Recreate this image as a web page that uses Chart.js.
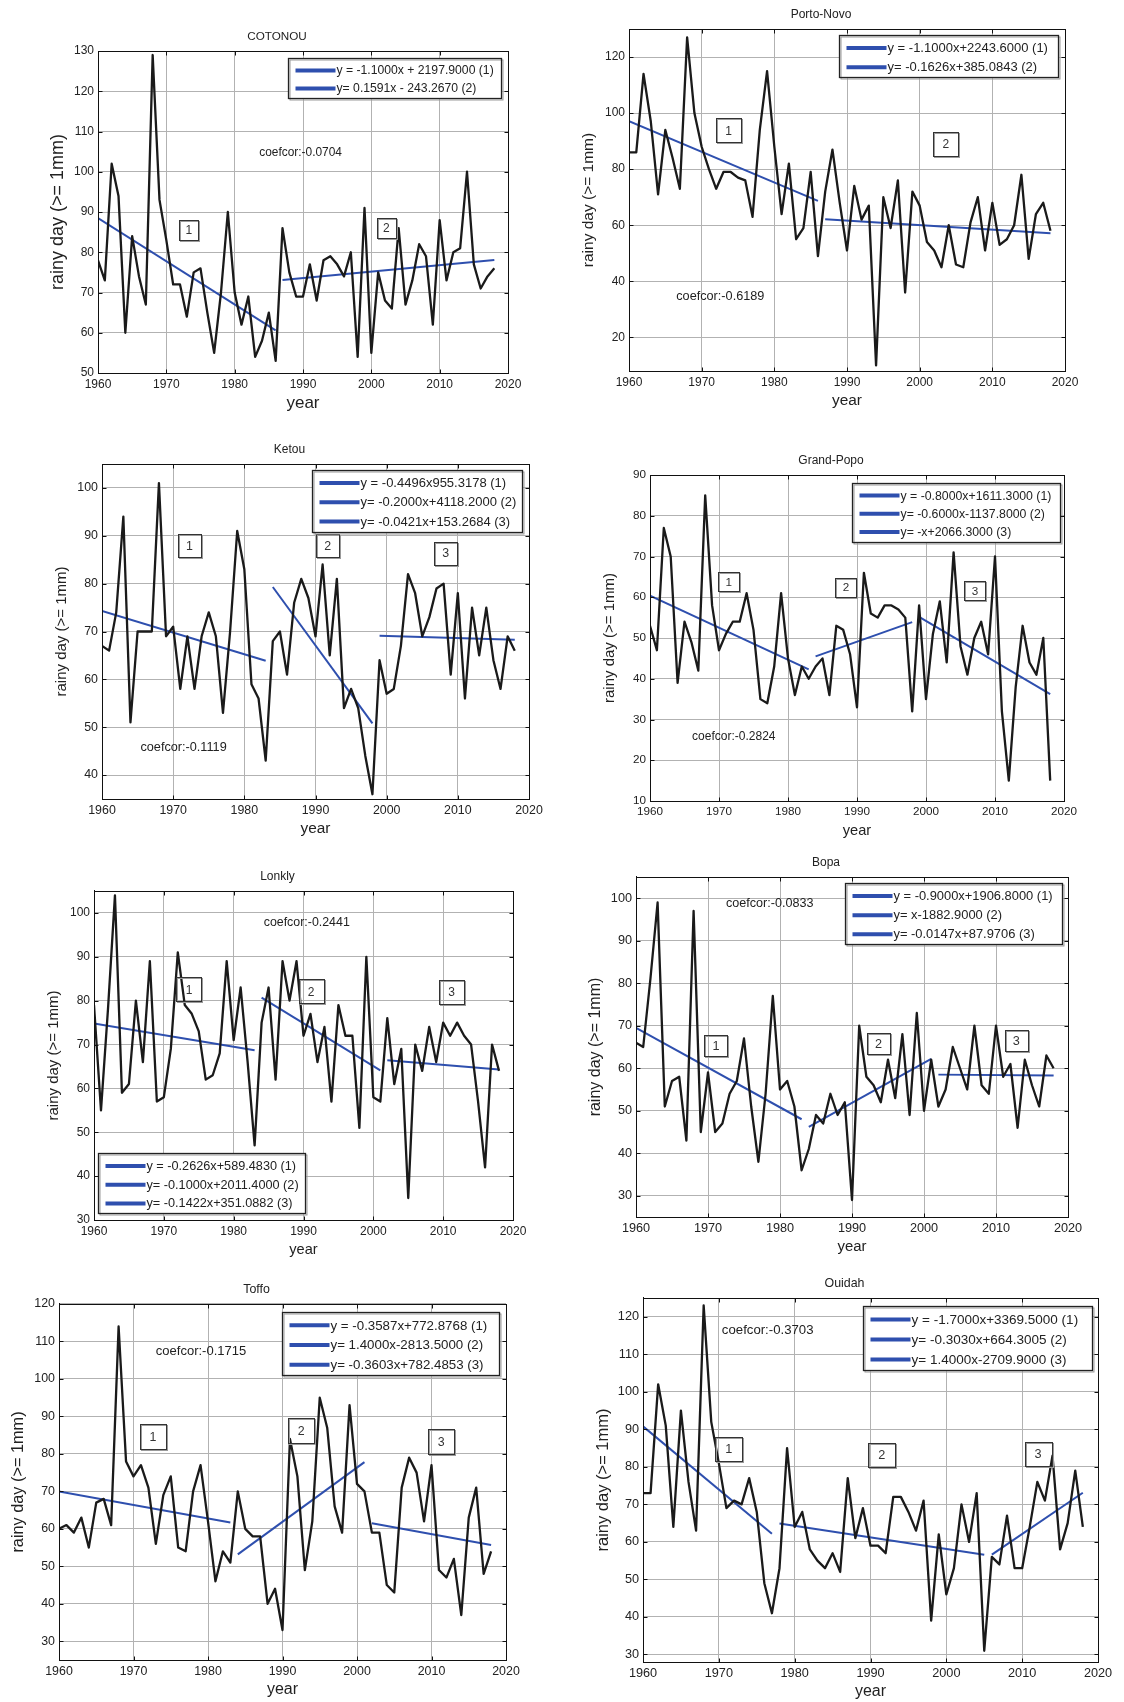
<!DOCTYPE html>
<html>
<head>
<meta charset="utf-8">
<title>Rainy days (>= 1mm), 1960-2018</title>
<script src="https://cdn.jsdelivr.net/npm/chart.js@4.4.1/dist/chart.umd.min.js"></script>
<style>
    html, body { margin: 0; padding: 0; background: #fff; overflow: hidden; }
    body { position: relative; width: 1124px; height: 1702px; }
    canvas { position: absolute; }
</style>
</head>
<body>
<script>
// Años y ticks comunes
const years = [];
for (let yr = 1960; yr <= 2018; yr++) years.push(yr);
const xTicks = [1960, 1970, 1980, 1990, 2000, 2010, 2020];

// COTONOU
const cotonou = [78, 73, 102, 94, 60, 84, 74, 67, 129, 93, 83, 72, 72, 64, 75, 76, 65, 55, 70, 90,
    70, 62, 69, 54, 58, 65, 53, 86, 75, 69, 69, 77, 68, 78, 79, 77, 74, 80, 54, 91,
    55, 75, 68, 66, 86, 67, 73, 82, 79, 62, 88, 73, 80, 81, 100, 77, 71, 74, 76];
const cotonouFitX = [[1960, 1986], [1987, 2018]];
const cotonouFitY = [[88.5, 60.6], [73.1, 78.1]];
const cotonouEq = ['y = -1.1000x + 2197.9000 (1)', 'y= 0.1591x - 243.2670 (2)'];
const cotonouTicks = [50, 60, 70, 80, 90, 100, 110, 120, 130];

// Porto-Novo
const porto = [86, 86, 114, 97, 71, 94, 84, 73, 127, 100, 88, 80, 73, 79, 79, 77, 76, 63, 94, 115,
    88, 64, 82, 55, 59, 79, 49, 72, 87, 68, 51, 74, 62, 67, 10, 70, 59, 76, 36, 72,
    67, 54, 51, 45, 60, 46, 45, 61, 70, 51, 68, 53, 55, 60, 78, 48, 64, 68, 58];
const portoFitX = [[1960, 1986], [1987, 2018]];
const portoFitY = [[97.1, 68.7], [62.1, 57.1]];
const portoEq = ['y = -1.1000x+2243.6000 (1)', 'y= -0.1626x+385.0843 (2)'];
const portoTicks = [20, 40, 60, 80, 100, 120];

// Ketou
const ketou = [67, 66, 74, 94, 51, 70, 70, 70, 101, 69, 71, 58, 69, 58, 69, 74, 69, 53, 70, 91,
    83, 59, 56, 43, 68, 70, 61, 76, 81, 77, 69, 84, 65, 81, 54, 58, 54, 44, 36, 64,
    57, 58, 67, 82, 78, 69, 73, 79, 80, 61, 78, 56, 75, 65, 75, 64, 58, 69, 66];
const ketouFitX = [[1960, 1983], [1984, 1998], [1999, 2018]];
const ketouFitY = [[74.3, 63.9], [79.3, 50.8], [69.1, 68.3]];
const ketouEq = ['y = -0.4496x955.3178 (1)', 'y= -0.2000x+4118.2000 (2)', 'y= -0.0421x+153.2684 (3)'];
const ketouTicks = [40, 50, 60, 70, 80, 90, 100];

// Grand-Popo
const grandPopo = [53, 47, 77, 70, 39, 54, 49, 42, 85, 58, 47, 51, 54, 54, 61, 52, 35, 34, 43, 61,
    45, 36, 43, 40, 43, 45, 36, 53, 52, 46, 33, 66, 56, 55, 58, 58, 57, 55, 32, 58,
    35, 51, 59, 44, 71, 48, 41, 50, 54, 46, 70, 32, 15, 38, 53, 44, 41, 50, 15];
const grandPopoFitX = [[1960, 1983], [1984, 1998], [1999, 2018]];
const grandPopoFitY = [[60.4, 42.3], [45.5, 53.9], [55.2, 36.2]];
const grandPopoEq = ['y = -0.8000x+1611.3000 (1)', 'y= -0.6000x-1137.8000 (2)', 'y= -x+2066.3000 (3)'];
const grandPopoTicks = [10, 20, 30, 40, 50, 60, 70, 80, 90];

// Lonkly
const lonkly = [79, 55, 78, 104, 59, 61, 80, 66, 89, 57, 58, 69, 91, 79, 77, 73, 62, 63, 68, 89,
    71, 83, 66, 47, 75, 83, 62, 89, 80, 89, 72, 77, 66, 74, 57, 79, 72, 72, 51, 90,
    58, 57, 76, 61, 69, 35, 70, 64, 74, 66, 75, 72, 75, 72, 70, 57, 42, 70, 64];
const lonklyFitX = [[1960, 1983], [1984, 2001], [2002, 2018]];
const lonklyFitY = [[74.8, 68.7], [80.7, 64.1], [66.4, 64.3]];
const lonklyEq = ['y = -0.2626x+589.4830 (1)', 'y= -0.1000x+2011.4000 (2)', 'y= -0.1422x+351.0882 (3)'];
const lonklyTicks = [30, 40, 50, 60, 70, 80, 90, 100];

// Bopa
const bopa = [66, 65, 81, 99, 51, 57, 58, 43, 97, 45, 59, 45, 47, 54, 57, 67, 51, 38, 54, 77,
    55, 57, 51, 36, 41, 49, 47, 54, 49, 52, 29, 70, 58, 56, 52, 62, 53, 68, 49, 73,
    50, 62, 51, 55, 65, 60, 55, 70, 56, 54, 70, 58, 61, 46, 62, 56, 51, 63, 60];
const bopaFitX = [[1960, 1983], [1984, 2001], [2002, 2018]];
const bopaFitY = [[69.5, 48], [46.2, 62.2], [58.5, 58.3]];
const bopaEq = ['y = -0.9000x+1906.8000 (1)', 'y= x-1882.9000 (2)', 'y= -0.0147x+87.9706 (3)'];
const bopaTicks = [30, 40, 50, 60, 70, 80, 90, 100];

// Toffo
const toffo = [60, 61, 59, 63, 55, 67, 68, 61, 114, 78, 74, 77, 71, 56, 69, 74, 55, 54, 70, 77,
    62, 46, 54, 51, 70, 60, 58, 58, 40, 44, 33, 84, 74, 49, 62, 95, 87, 66, 59, 93,
    72, 70, 59, 59, 45, 43, 71, 79, 75, 62, 77, 49, 47, 52, 37, 63, 71, 48, 54];
const toffoFitX = [[1960, 1983], [1984, 2001], [2002, 2018]];
const toffoFitY = [[70, 61.7], [53.2, 77.8], [61.5, 55.7]];
const toffoEq = ['y = -0.3587x+772.8768 (1)', 'y= 1.4000x-2813.5000 (2)', 'y= -0.3603x+782.4853 (3)'];
const toffoTicks = [30, 40, 50, 60, 70, 80, 90, 100, 110, 120];

// Ouidah
const ouidah = [73, 73, 102, 91, 64, 95, 76, 63, 123, 92, 81, 69, 71, 70, 77, 68, 49, 41, 53, 85,
    64, 68, 58, 55, 53, 57, 52, 77, 61, 69, 59, 59, 57, 72, 72, 68, 63, 71, 39, 62,
    46, 53, 70, 60, 73, 31, 56, 54, 67, 53, 53, 64, 76, 71, 83, 58, 65, 79, 64];
const ouidahFitX = [[1960, 1977], [1978, 2005], [2006, 2018]];
const ouidahFitY = [[90.8, 62.2], [64.9, 56.6], [56.6, 73.1]];
const ouidahEq = ['y = -1.7000x+3369.5000 (1)', 'y= -0.3030x+664.3005 (2)', 'y= 1.4000x-2709.9000 (3)'];
const ouidahTicks = [30, 40, 50, 60, 70, 80, 90, 100, 110, 120];

const BLUE = '#2e4fae';
const INK = '#222';
const GRID = '#b2b2b2';
const FONT = '"Liberation Sans", Arial, sans-serif';

Chart.defaults.font.family = FONT;
Chart.defaults.color = INK;

// Paneles: datos + ubicación en la página
const panels = [
    { title: 'COTONOU', values: cotonou, fitX: cotonouFitX, fitY: cotonouFitY, eq: cotonouEq,
      coef: 'coefcor:-0.0704', yTicks: cotonouTicks, yMin: 50, yMax: 130,
      coefAt: [1983.6, 104.7], marks: [[1973.3, 85.5], [2002.2, 86]], markBox: [19, 20],
      box: [98, 51, 508, 373], legend: [190, 7, 213],
      f: { tick: 12, title: 11.7, yT: 18, xT: 17, leg: 12.2 } },
    { title: 'Porto-Novo', values: porto, fitX: portoFitX, fitY: portoFitY, eq: portoEq,
      coef: 'coefcor:-0.6189', yTicks: portoTicks, yMin: 8, yMax: 130,
      coefAt: [1966.5, 34.5], marks: [[1973.7, 93.8], [2003.6, 89]], markBox: [25, 24],
      box: [629, 29, 1065, 371], legend: [210, 6, 219],
      f: { tick: 12, title: 12, yT: 15.5, xT: 15.4, leg: 13 } },
    { title: 'Ketou', values: ketou, fitX: ketouFitX, fitY: ketouFitY, eq: ketouEq,
      coef: 'coefcor:-0.1119', yTicks: ketouTicks, yMin: 35, yMax: 105,
      coefAt: [1965.4, 45.8], marks: [[1972.3, 87.9], [1991.7, 87.9], [2008.3, 86.4]], markBox: [23, 23],
      box: [102, 464, 529, 799], legend: [210, 6, 210],
      f: { tick: 12.4, title: 12, yT: 15, xT: 15.4, leg: 13 } },
    { title: 'Grand-Popo', values: grandPopo, fitX: grandPopoFitX, fitY: grandPopoFitY, eq: grandPopoEq,
      coef: 'coefcor:-0.2824', yTicks: grandPopoTicks, yMin: 10, yMax: 90,
      coefAt: [1966.1, 25.7], marks: [[1971.4, 63.8], [1988.4, 62.5], [2007.1, 61.7]], markBox: [21, 19],
      box: [650, 475, 1064, 801], legend: [202, 8, 208],
      f: { tick: 11.7, title: 12, yT: 15, xT: 14.6, leg: 12.3 } },
    { title: 'Lonkly', values: lonkly, fitX: lonklyFitX, fitY: lonklyFitY, eq: lonklyEq,
      coef: 'coefcor:-0.2441', yTicks: lonklyTicks, yMin: 30, yMax: 105,
      coefAt: [1984.3, 97.7], marks: [[1973.6, 82.6], [1991.1, 82.1], [2011.2, 82]], markBox: [25, 24],
      box: [94, 891, 513, 1220], legend: [4, 262, 207],
      f: { tick: 12, title: 12, yT: 15, xT: 14.6, leg: 12.7 } },
    { title: 'Bopa', values: bopa, fitX: bopaFitX, fitY: bopaFitY, eq: bopaEq,
      coef: 'coefcor:-0.0833', yTicks: bopaTicks, yMin: 25, yMax: 105,
      coefAt: [1972.5, 98.7], marks: [[1971.1, 65.4], [1993.7, 65.8], [2012.8, 66.5]], markBox: [23, 21],
      box: [636, 877, 1068, 1217], legend: [209, 6, 217],
      f: { tick: 12.7, title: 12, yT: 16, xT: 14.9, leg: 12.9 } },
    { title: 'Toffo', values: toffo, fitX: toffoFitX, fitY: toffoFitY, eq: toffoEq,
      coef: 'coefcor:-0.1715', yTicks: toffoTicks, yMin: 25, yMax: 120,
      coefAt: [1973.0, 107.4], marks: [[1972.6, 84.7], [1992.5, 86.3], [2011.3, 83.4]], markBox: [26, 25],
      box: [59, 1304, 506, 1660], legend: [223, 8, 217],
      f: { tick: 12.4, title: 12.4, yT: 16.3, xT: 16, leg: 13.3 } },
    { title: 'Ouidah', values: ouidah, fitX: ouidahFitX, fitY: ouidahFitY, eq: ouidahEq,
      coef: 'coefcor:-0.3703', yTicks: ouidahTicks, yMin: 28, yMax: 125,
      coefAt: [1970.4, 116.4], marks: [[1971.3, 84.8], [1991.5, 83.2], [2012.1, 83.5]], markBox: [27, 24],
      box: [643, 1298, 1098, 1662], legend: [220, 8, 229],
      f: { tick: 12.7, title: 12.4, yT: 16.5, xT: 16, leg: 13.5 } }
];

// Etiquetas de segmentos, coefcor, leyenda y marco de ejes
function annotPlugin(p) {
    return {
        id: 'annot',
        afterDatasetsDraw(chart) {
            const { ctx, chartArea: a, scales: { x, y } } = chart;
            const f = p.f;
            ctx.save();

            // cajas "1", "2", "3"
            const [bw, bh] = p.markBox;
            ctx.font = `${f.tick}px ${FONT}`;
            ctx.textAlign = 'center';
            ctx.textBaseline = 'middle';
            p.marks.forEach((m, i) => {
                const px = x.getPixelForValue(m[0]);
                const py = y.getPixelForValue(m[1]);
                const bx = Math.round(px - bw / 2) + 0.5;
                const by = Math.round(py - bh / 2) + 0.5;
                ctx.strokeStyle = '#9a9a9a';
                ctx.lineWidth = 1;
                ctx.strokeRect(bx + 1, by + 1, bw, bh);
                ctx.strokeStyle = '#333';
                ctx.strokeRect(bx, by, bw, bh);
                ctx.fillStyle = '#333';
                ctx.fillText(String(i + 1), px, py + 1);
            });

            // coefcor
            ctx.textAlign = 'left';
            ctx.fillStyle = INK;
            ctx.font = `${f.leg - 0.3}px ${FONT}`;
            ctx.fillText(p.coef, x.getPixelForValue(p.coefAt[0]), y.getPixelForValue(p.coefAt[1]));

            // leyenda
            const lx = Math.round(a.left + p.legend[0]) + 0.5;
            const ly = Math.round(a.top + p.legend[1]) + 0.5;
            const lw = p.legend[2];
            const rowH = f.leg * 1.48;
            const lh = Math.round(p.eq.length * rowH + 4);
            ctx.fillStyle = '#fff';
            ctx.fillRect(lx, ly, lw, lh);
            ctx.strokeStyle = '#9a9a9a';
            ctx.lineWidth = 1;
            ctx.strokeRect(lx + 1.5, ly + 1.5, lw, lh);
            ctx.strokeStyle = INK;
            ctx.lineWidth = 1.3;
            ctx.strokeRect(lx, ly, lw, lh);
            ctx.font = `${f.leg}px ${FONT}`;
            p.eq.forEach((t, i) => {
                const cy = ly + 3 + rowH * (i + 0.5);
                ctx.strokeStyle = BLUE;
                ctx.lineWidth = 4;
                ctx.beginPath();
                ctx.moveTo(lx + 7, cy);
                ctx.lineTo(lx + 47, cy);
                ctx.stroke();
                ctx.fillStyle = INK;
                ctx.fillText(t, lx + 48, cy + 0.5);
            });
            ctx.restore();
        },
        afterDraw(chart) {
            const { ctx, chartArea: a, scales: { x, y } } = chart;
            ctx.save();
            ctx.strokeStyle = '#111';
            ctx.lineWidth = 1;
            const l = Math.round(a.left) + 0.5, t = Math.round(a.top) + 0.5;
            const r = Math.round(a.right) + 0.5, b = Math.round(a.bottom) + 0.5;
            ctx.strokeRect(l, t, r - l, b - t);
            // ticks hacia dentro (estilo MATLAB)
            ctx.beginPath();
            x.ticks.forEach(tk => {
                const px = Math.round(x.getPixelForValue(tk.value)) + 0.5;
                ctx.moveTo(px, b); ctx.lineTo(px, b - 4);
                ctx.moveTo(px, t); ctx.lineTo(px, t + 4);
            });
            y.ticks.forEach(tk => {
                const py = Math.round(y.getPixelForValue(tk.value)) + 0.5;
                ctx.moveTo(l, py); ctx.lineTo(l + 4, py);
                ctx.moveTo(r, py); ctx.lineTo(r - 4, py);
            });
            ctx.stroke();
            ctx.restore();
        }
    };
}

function makeChart(p) {
    const [L, T, R, B] = p.box;
    const f = p.f;
    const titleH = 16 + 0.6 * f.title;
    const top = Math.floor(T - titleH);
    const padTop = T - titleH - top;
    const left = L - 56;
    const w = R - L + 74;
    const h = Math.round(B + 46 - top);

    const cv = document.createElement('canvas');
    cv.width = w;
    cv.height = h;
    cv.style.left = left + 'px';
    cv.style.top = top + 'px';
    cv.style.width = w + 'px';
    cv.style.height = h + 'px';
    document.body.appendChild(cv);

    const datasets = [{
        label: p.title,
        data: years.map((yr, i) => ({ x: yr, y: p.values[i] })),
        borderColor: '#1a1a1a',
        borderWidth: 2.3,
        borderJoinStyle: 'round',
        pointRadius: 0,
        tension: 0
    }];
    p.fitX.forEach((xs, k) => {
        datasets.push({
            label: p.eq[k],
            data: xs.map((xv, j) => ({ x: xv, y: p.fitY[k][j] })),
            borderColor: BLUE,
            borderWidth: 2,
            pointRadius: 0
        });
    });

    return new Chart(cv.getContext('2d'), {
        type: 'line',
        data: { datasets },
        plugins: [annotPlugin(p)],
        options: {
            responsive: false,
            animation: false,
            devicePixelRatio: 1,
            events: [],
            layout: { padding: { left: 4, right: 18, top: padTop, bottom: 4 } },
            plugins: {
                legend: { display: false },
                tooltip: { enabled: false },
                title: {
                    display: true,
                    text: p.title,
                    color: INK,
                    font: { size: f.title, weight: 'normal' },
                    padding: { top: 2, bottom: 14 - 0.6 * f.title }
                }
            },
            scales: {
                x: {
                    type: 'linear',
                    min: 1960,
                    max: 2020,
                    afterBuildTicks: s => { s.ticks = xTicks.map(v => ({ value: v })); },
                    afterFit: s => { s.height = 42; s.paddingLeft = 0; s.paddingRight = 0; },
                    ticks: {
                        callback: v => String(v),
                        color: INK,
                        font: { size: f.tick },
                        padding: 4,
                        maxRotation: 0,
                        autoSkip: false
                    },
                    grid: { color: GRID, lineWidth: 1, drawTicks: false },
                    border: { color: '#111' },
                    title: {
                        display: true,
                        text: 'year',
                        color: INK,
                        font: { size: f.xT },
                        padding: { top: 0, bottom: 12 - 0.6 * f.xT }
                    }
                },
                y: {
                    type: 'linear',
                    min: p.yMin,
                    max: p.yMax,
                    afterBuildTicks: s => { s.ticks = p.yTicks.map(v => ({ value: v })); },
                    afterFit: s => { s.width = 52; s.paddingTop = 0; s.paddingBottom = 0; },
                    ticks: {
                        callback: v => String(v),
                        color: INK,
                        font: { size: f.tick },
                        padding: 4,
                        autoSkip: false
                    },
                    grid: { color: GRID, lineWidth: 1, drawTicks: false },
                    border: { color: '#111' },
                    title: {
                        display: true,
                        text: 'rainy day (>= 1mm)',
                        color: INK,
                        font: { size: f.yT },
                        padding: { top: 12 - 0.6 * f.yT, bottom: 0 }
                    }
                }
            }
        }
    });
}

panels.forEach(makeChart);
</script>
</body>
</html>
